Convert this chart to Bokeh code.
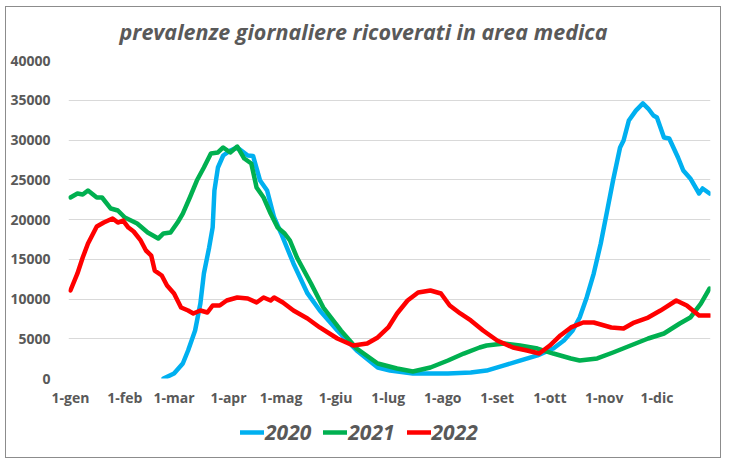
from bokeh.plotting import figure
from bokeh.layouts import column
from bokeh.models import Range1d, FixedTicker, Legend, LegendItem, Label
from bokeh.embed import file_html
from bokeh.resources import INLINE

# ---- data (day of year, 0 = 1 gennaio) ----
days_2020 = [53, 59, 64, 67, 71, 74, 76, 79, 81, 82, 84, 87, 91, 95, 101, 104, 108, 112, 116, 120,
             127, 135, 142, 152, 163, 175, 182, 195, 215, 228, 237, 247, 256, 266, 275, 281, 286,
             290, 294, 298, 302, 306, 309, 313, 315, 318, 322, 326, 329, 332, 334, 338, 341, 346,
             349, 353, 358, 360, 364]
vals_2020 = [0, 630, 1890, 3520, 6040, 9430, 13200, 16480, 19000, 23650, 26540, 28050, 28680, 29060,
             28050, 28000, 24900, 23650, 20250, 18240, 14470, 10700, 8550, 6040, 3520, 1380, 1000,
             630, 630, 750, 1000, 1640, 2260, 2900, 3770, 4780, 6040, 7670, 10190, 13200, 16980,
             21500, 24900, 29060, 29940, 32450, 33700, 34600, 33960, 33080, 32830, 30310, 30190,
             27800, 26160, 25160, 23270, 23900, 23270]

days_2021 = [0, 4, 7, 10, 15, 18, 23, 27, 31, 38, 44, 50, 53, 57, 61, 64, 68, 72, 76, 80, 84, 87,
             91, 95, 99, 103, 106, 110, 114, 118, 122, 125, 129, 137, 144, 154, 163, 175, 186, 195,
             205, 215, 224, 233, 237, 247, 256, 266, 275, 285, 290, 300, 309, 319, 329, 338, 347,
             353, 359, 364]
vals_2021 = [22770, 23270, 23140, 23650, 22770, 22770, 21380, 21130, 20250, 19500, 18360, 17610,
             18240, 18360, 19620, 20750, 22770, 24900, 26540, 28300, 28430, 29060, 28430, 29180,
             27670, 27040, 24030, 22770, 20750, 18990, 18240, 17360, 15220, 11950, 8930, 6040,
             3770, 1890, 1260, 880, 1380, 2260, 3140, 3900, 4150, 4400, 4150, 3770, 3140, 2520,
             2260, 2520, 3270, 4150, 5030, 5660, 6920, 7670, 9430, 11320]

days_2022 = [0, 4, 7, 10, 15, 19, 24, 27, 30, 33, 36, 40, 43, 46, 48, 52, 55, 59, 63, 67, 70, 74,
             78, 81, 85, 89, 95, 101, 106, 110, 114, 116, 121, 127, 135, 142, 152, 161, 169, 175,
             181, 186, 192, 198, 205, 211, 216, 222, 228, 235, 243, 252, 260, 267, 273, 279, 285,
             292, 298, 308, 315, 321, 329, 336, 345, 351, 358, 364]
vals_2022 = [11070, 13210, 15220, 16980, 19120, 19620, 20130, 19620, 19870, 18990, 18490, 17360,
             16100, 15470, 13580, 12960, 11700, 10690, 8930, 8550, 8180, 8550, 8300, 9180, 9180,
             9810, 10190, 10060, 9560, 10190, 9810, 10190, 9560, 8550, 7550, 6420, 5030, 4150,
             4400, 5160, 6420, 8180, 9810, 10820, 11070, 10690, 9180, 8180, 7300, 6040, 4780,
             3900, 3520, 3140, 4150, 5410, 6420, 7040, 7040, 6420, 6290, 7040, 7670, 8550, 9810,
             9180, 7920, 7920]

month_days = [0, 31, 59, 90, 120, 151, 181, 212, 243, 273, 304, 334]
month_labels = ["1-gen", "1-feb", "1-mar", "1-apr", "1-mag", "1-giu",
                "1-lug", "1-ago", "1-set", "1-ott", "1-nov", "1-dic"]
y_ticks = [0, 5000, 10000, 15000, 20000, 25000, 30000, 35000, 40000]

title_text = "prevalenze giornaliere ricoverati in area medica"
series_names = ["2020", "2021", "2022"]
series_colors = ["#00b0f0", "#00b050", "#ff0000"]
series_days = [days_2020, days_2021, days_2022]
series_vals = [vals_2020, vals_2021, vals_2022]

FONT = "Open Sans"
GRAY = "#595959"
LW = 4.5

# ---- title strip ----
p_top = figure(width=714, height=46, output_backend="svg", toolbar_location=None,
               x_axis_type=None, y_axis_type=None, x_range=Range1d(0, 1), y_range=Range1d(0, 1))
p_top.min_border_left = 0
p_top.min_border_right = 0
p_top.min_border_top = 0
p_top.min_border_bottom = 0
p_top.outline_line_color = None
p_top.grid.grid_line_color = None
p_top.add_layout(Label(x=0.4595, y=0.478, text=title_text, text_align="center",
                       text_baseline="middle", text_font=FONT,
                       text_font_style="bold italic", text_font_size="21.5px",
                       text_color=GRAY))

# ---- main chart ----
p_main = figure(width=714, height=362, output_backend="svg", toolbar_location=None,
                x_range=Range1d(-1.1, 364.5), y_range=Range1d(0, 40000))
p_main.min_border_left = 62
p_main.min_border_right = 10
p_main.min_border_bottom = 37
p_main.min_border_top = 7

p_main.outline_line_color = None
p_main.xgrid.grid_line_color = None
p_main.ygrid.grid_line_color = "#d9d9d9"
p_main.ygrid.grid_line_width = 1

p_main.xaxis.ticker = FixedTicker(ticks=month_days)
p_main.xaxis.major_label_overrides = {d: l for d, l in zip(month_days, month_labels)}
p_main.yaxis.ticker = FixedTicker(ticks=y_ticks)

for ax in (p_main.xaxis, p_main.yaxis):
    ax.axis_line_color = None
    ax.major_tick_line_color = None
    ax.minor_tick_line_color = None
    ax.major_label_text_font = FONT
    ax.major_label_text_font_style = "bold"
    ax.major_label_text_font_size = "14px"
    ax.major_label_text_color = GRAY
p_main.xaxis.major_label_standoff = 3
p_main.yaxis.major_label_standoff = 12

for d, v, c in zip(series_days, series_vals, series_colors):
    p_main.line(d, v, line_color=c, line_width=LW, line_join="round", line_cap="round")

# ---- legend strip (its lines lie outside its own ranges, only the legend shows) ----
p_leg = figure(width=714, height=42, output_backend="svg", toolbar_location=None,
               x_axis_type=None, y_axis_type=None,
               x_range=Range1d(-100, -99), y_range=Range1d(-100, -99))
p_leg.min_border_left = 0
p_leg.min_border_right = 0
p_leg.min_border_top = 0
p_leg.min_border_bottom = 0
p_leg.outline_line_color = None
p_leg.grid.grid_line_color = None
leg_renderers = [p_leg.line(d, v, line_color=c, line_width=LW, line_cap="round")
                 for d, v, c in zip(series_days, series_vals, series_colors)]

legend = Legend(items=[LegendItem(label=n, renderers=[r]) for n, r in zip(series_names, leg_renderers)],
                orientation="horizontal", location=(172, 11))
legend.label_text_font = FONT
legend.label_text_font_style = "bold italic"
legend.label_text_font_size = "21px"
legend.label_text_color = GRAY
legend.glyph_width = 24
legend.label_standoff = 1
legend.spacing = 12
legend.padding = 4
legend.margin = 0
legend.border_line_color = None
legend.background_fill_alpha = 0
p_leg.add_layout(legend, "center")

p = column(p_top, p_main, p_leg, spacing=0, margin=(6, 0, 0, 5),
           styles={"border": "1px solid #8c8c8c"})

open("out.html", "w").write(file_html(p, INLINE))
